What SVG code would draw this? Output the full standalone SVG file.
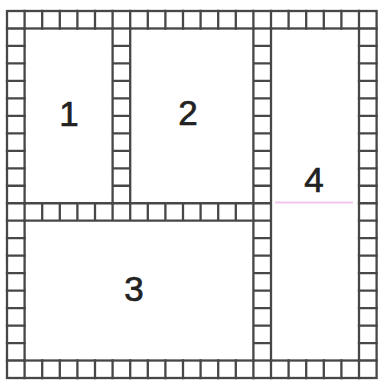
<svg xmlns="http://www.w3.org/2000/svg" width="379" height="383" viewBox="0 0 379 383">
<style>
.g{fill:none;stroke:#474747;stroke-width:2.3;stroke-linecap:square}
.lbl{font-family:"Liberation Sans","DejaVu Sans",sans-serif;font-size:35px;fill:#222222;stroke:#222222;stroke-width:0.7;text-anchor:middle}
</style>
<rect width="379" height="383" fill="#ffffff"/>
<g id="border">
<rect class="g" x="7" y="11" width="369.6" height="367"/>
<rect class="g" x="24.6" y="28.48" width="334.4" height="332.04"/>
<path class="g" d="M24.6 11V28.48M42.2 11V28.48M59.8 11V28.48M77.4 11V28.48M95 11V28.48M112.6 11V28.48M130.2 11V28.48M147.8 11V28.48M165.4 11V28.48M183 11V28.48M200.6 11V28.48M218.2 11V28.48M235.8 11V28.48M253.4 11V28.48M271 11V28.48M288.6 11V28.48M306.2 11V28.48M323.8 11V28.48M341.4 11V28.48M359 11V28.48"/>
<path class="g" d="M24.6 360.52V378M42.2 360.52V378M59.8 360.52V378M77.4 360.52V378M95 360.52V378M112.6 360.52V378M130.2 360.52V378M147.8 360.52V378M165.4 360.52V378M183 360.52V378M200.6 360.52V378M218.2 360.52V378M235.8 360.52V378M253.4 360.52V378M271 360.52V378M288.6 360.52V378M306.2 360.52V378M323.8 360.52V378M341.4 360.52V378M359 360.52V378"/>
<path class="g" d="M7 28.48H24.6M7 45.95H24.6M7 63.43H24.6M7 80.9H24.6M7 98.38H24.6M7 115.86H24.6M7 133.33H24.6M7 150.81H24.6M7 168.28H24.6M7 185.76H24.6M7 203.24H24.6M7 220.71H24.6M7 238.19H24.6M7 255.66H24.6M7 273.14H24.6M7 290.62H24.6M7 308.09H24.6M7 325.57H24.6M7 343.04H24.6M7 360.52H24.6"/>
<path class="g" d="M359 28.48H376.6M359 45.95H376.6M359 63.43H376.6M359 80.9H376.6M359 98.38H376.6M359 115.86H376.6M359 133.33H376.6M359 150.81H376.6M359 168.28H376.6M359 185.76H376.6M359 203.24H376.6M359 220.71H376.6M359 238.19H376.6M359 255.66H376.6M359 273.14H376.6M359 290.62H376.6M359 308.09H376.6M359 325.57H376.6M359 343.04H376.6M359 360.52H376.6"/>
</g>
<g id="strip-col6">
<path class="g" d="M112.6 28.48V203.24M130.2 28.48V203.24M112.6 45.95H130.2M112.6 63.43H130.2M112.6 80.9H130.2M112.6 98.38H130.2M112.6 115.86H130.2M112.6 133.33H130.2M112.6 150.81H130.2M112.6 168.28H130.2M112.6 185.76H130.2"/>
</g>
<g id="strip-row11">
<path class="g" d="M24.6 203.24H253.4M24.6 220.71H253.4M42.2 203.24V220.71M59.8 203.24V220.71M77.4 203.24V220.71M95 203.24V220.71M112.6 203.24V220.71M130.2 203.24V220.71M147.8 203.24V220.71M165.4 203.24V220.71M183 203.24V220.71M200.6 203.24V220.71M218.2 203.24V220.71M235.8 203.24V220.71"/>
</g>
<g id="strip-col14">
<path class="g" d="M253.4 28.48V360.52M271 28.48V360.52M253.4 45.95H271M253.4 63.43H271M253.4 80.9H271M253.4 98.38H271M253.4 115.86H271M253.4 133.33H271M253.4 150.81H271M253.4 168.28H271M253.4 185.76H271M253.4 203.24H271M253.4 220.71H271M253.4 238.19H271M253.4 255.66H271M253.4 273.14H271M253.4 290.62H271M253.4 308.09H271M253.4 325.57H271M253.4 343.04H271"/>
</g>
<line x1="275" y1="202.5" x2="353" y2="202.5" stroke="#f3c4ef" stroke-width="2"/>
<g id="room-1"><text class="lbl" x="69" y="126">1</text></g>
<g id="room-2"><text class="lbl" x="188" y="125">2</text></g>
<g id="room-3"><text class="lbl" x="134" y="301">3</text></g>
<g id="room-4"><text class="lbl" x="314" y="192">4</text></g>
</svg>
